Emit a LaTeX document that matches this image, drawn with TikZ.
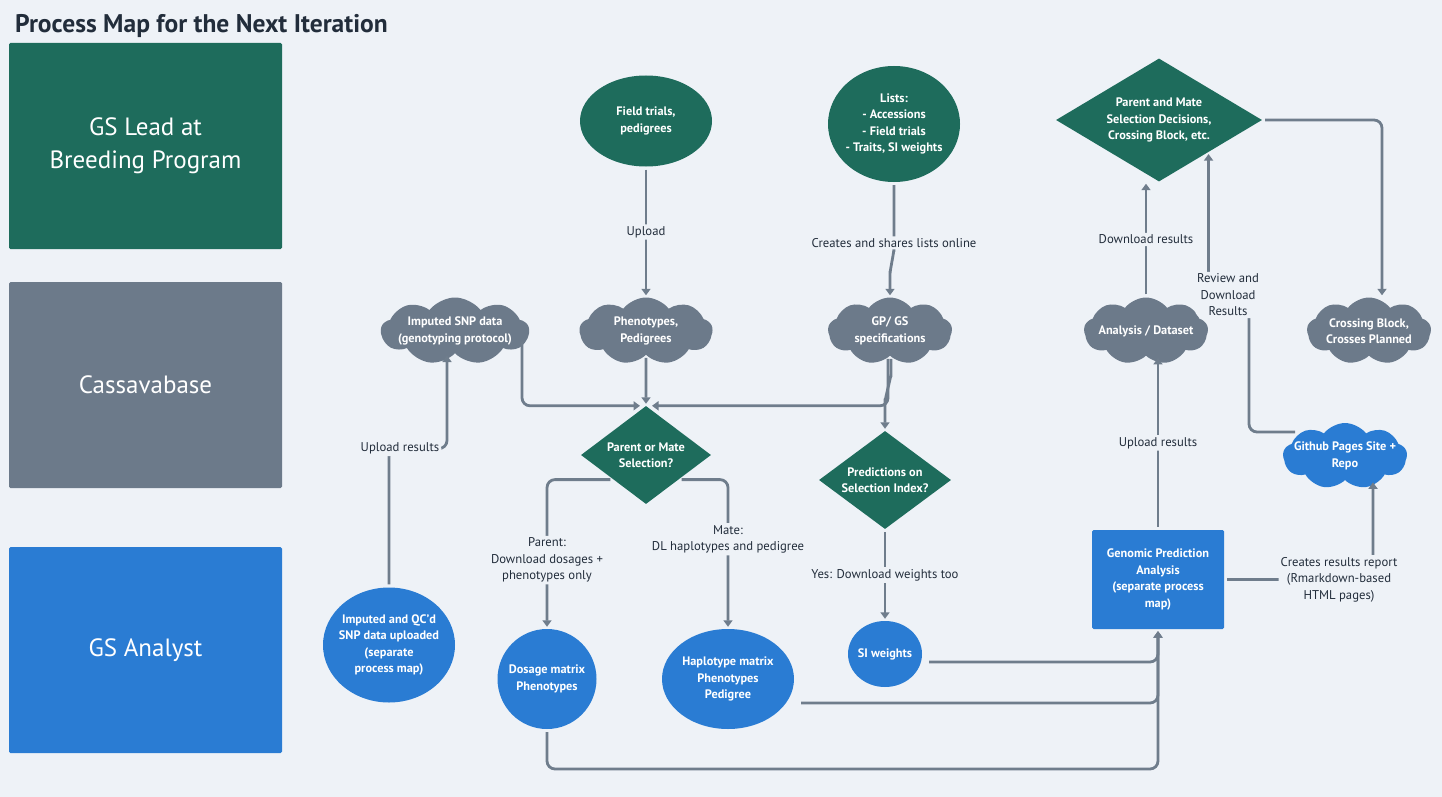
\documentclass[tikz,border=0pt]{standalone}
\usepackage{fontspec}
\setmainfont{PT Sans}
\usetikzlibrary{shapes.geometric,shapes.symbols,arrows.meta,calc}

\definecolor{bgcol}{HTML}{EEF2F7}
\definecolor{leadgreen}{HTML}{1E6C5C}
\definecolor{basegray}{HTML}{6C7A8A}
\definecolor{analystblue}{HTML}{2A7CD3}
\definecolor{linegray}{HTML}{6F7D8C}
\definecolor{titleink}{HTML}{222D3B}

\tikzset{
  lane/.style={rectangle, rounded corners=1.5pt, minimum width=273pt, minimum height=206pt,
    text=white, align=center, font=\fontsize{25}{33}\selectfont},
  nodetext/.style={text=white, align=center, inner sep=0pt, font=\bfseries\fontsize{12.3}{16.5}\selectfont},
  oval/.style={ellipse, inner sep=0pt},
  cloudy/.style={cloud, cloud puffs=9, cloud puff arc=105, cloud ignores aspect, inner sep=0pt, fill=basegray},
  decision/.style={diamond, nodetext, fill=leadgreen},
  conn/.style={draw=linegray, line width=2.8pt, rounded corners=8pt, shorten <=3pt, shorten >=2pt,
    -{Triangle[width=9pt,length=6.5pt]}},
  lbl/.style={fill=bgcol, text=titleink, align=center, inner sep=2pt, font=\fontsize{12.7}{16.5}\selectfont}
}

\begin{document}
\begin{tikzpicture}[x=1pt,y=-1pt]
  %%% CANVAS %%%
  \fill[bgcol] (0,0) rectangle (1442,797);
  \useasboundingbox (0,0) rectangle (1442,797);
  \node[anchor=west, text=titleink, inner sep=0pt, font=\bfseries\fontsize{25.5}{30}\selectfont] (title) at (15,26) {Process Map for the Next Iteration};

  %%% LANES %%%
  \node[lane, fill=leadgreen] (leadlane) at (145.5,146) {GS Lead at\\Breeding Program};
  \node[lane, fill=basegray] (baselane) at (145.5,385) {Cassavabase};
  \node[lane, fill=analystblue] (analystlane) at (145.5,650) {GS Analyst};

  %%% GS LEAD %%%
  \node[oval, fill=leadgreen, minimum width=132pt, minimum height=91pt,
    label={[nodetext]center:{Field trials,\\pedigrees}}] (field) at (646,121) {};
  \node[oval, fill=leadgreen, minimum width=132pt, minimum height=116pt,
    label={[nodetext]center:{Lists:\\- Accessions\\- Field trials\\- Traits, SI weights}}] (lists) at (894,124) {};
  \node[decision, shape aspect=1.67, minimum width=206pt, minimum height=123pt] (decide) at (1159,120)
    {Parent and Mate\\Selection Decisions,\\Crossing Block, etc.};

  %%% CASSAVABASE %%%
  \node[cloudy, minimum width=148pt, minimum height=67pt,
    label={[nodetext]center:{Imputed SNP data\\(genotyping protocol)}}] (snp) at (455,331) {};
  \node[cloudy, minimum width=133pt, minimum height=67pt,
    label={[nodetext]center:{Phenotypes,\\Pedigrees}}] (pheno) at (646,331) {};
  \node[cloudy, minimum width=124pt, minimum height=67pt,
    label={[nodetext]center:{GP/ GS\\specifications}}] (gpgs) at (890,331) {};
  \node[cloudy, minimum width=124pt, minimum height=67pt,
    label={[nodetext]center:{Analysis / Dataset}}] (analysis) at (1146,331) {};
  \node[cloudy, minimum width=124pt, minimum height=67pt,
    label={[nodetext]center:{Crossing Block,\\Crosses Planned}}] (crossing) at (1369,331) {};
  \node[cloudy, fill=analystblue, minimum width=124pt, minimum height=66pt,
    label={[nodetext]center:{Github Pages Site +\\Repo}}] (github) at (1345,456) {};
  \node[decision, shape aspect=1.33, minimum width=130pt, minimum height=98pt] (pm) at (646,455)
    {Parent or Mate\\Selection?};
  \node[decision, shape aspect=1.35, minimum width=132pt, minimum height=98pt] (pred) at (885,480)
    {Predictions on\\Selection Index?};

  %%% GS ANALYST %%%
  \node[rectangle, rounded corners=1.5pt, fill=analystblue, nodetext, minimum width=132pt, minimum height=99pt] (gp)
    at (1158,579.5) {Genomic Prediction\\Analysis\\(separate process\\map)};
  \node[oval, fill=analystblue, minimum width=74pt, minimum height=66pt,
    label={[nodetext]center:{SI weights}}] (si) at (885,654) {};
  \node[oval, fill=analystblue, minimum width=132pt, minimum height=115pt,
    label={[nodetext]center:{Imputed and QC'd\\SNP data uploaded\\(separate\\process map)}}] (qc) at (389,645) {};
  \node[oval, fill=analystblue, minimum width=99pt, minimum height=100pt,
    label={[nodetext]center:{Dosage matrix\\Phenotypes}}] (dosage) at (547,679) {};
  \node[oval, fill=analystblue, minimum width=132pt, minimum height=100pt,
    label={[nodetext]center:{Haplotype matrix\\Phenotypes\\Pedigree}}] (hap) at (728,679) {};

  \coordinate (dosagebend) at (1158,769);
  \coordinate (reviewjog) at (1249,295);

  %%% CONNECTORS %%%
  \draw[conn] (field.south) -- node[lbl]{Upload} (pheno.north);
  \draw[conn] (lists.south) -- node[lbl,pos=0.82]{Creates and shares lists online} ++(0,74)
    to[out=90,in=-90] ++(-4,10) -- (gpgs.north);
  \draw[conn] ($(snp.south)+(67,-15)$) |- ($(pm.north)+(-4,0)$);
  \draw[conn] (pheno.south) -- (pm.north);
  \draw[conn] ($(gpgs.south)+(-2,0)$) |- ($(pm.north)+(4,0)$);
  \draw[conn] ($(gpgs.south)+(1,0)$) -- ++(0,26) to[out=90,in=-90] ++(-6,12) -- (pred.north);
  \draw[conn] ($(pm.west)!0.5!(pm.south)$) -| node[lbl,pos=0.77]{Parent:\\Download dosages +\\phenotypes only} (dosage.north);
  \draw[conn] ($(pm.east)!0.5!(pm.south)$) -| node[lbl,pos=0.70]{Mate:\\DL haplotypes and pedigree} (hap.north);
  \draw[conn] (pred.south) -- node[lbl]{Yes: Download weights too} (si.north);
  \draw[conn] ($(si.east)+(4,8)$) -| (gp.south);
  \draw[conn] ($(hap.east)+(4,24)$) -| (gp.south);
  \draw[conn] (dosage.south) |- (dosagebend) -- (gp.south);
  \draw[conn] (gp.north) -- node[lbl]{Upload results} (gp.north |- analysis.south);
  \draw[conn] (analysis.north) -- node[lbl]{Download results} (analysis.north |- decide.south);
  \draw[conn] ($(github.center)+(-47,-24)$) -| (reviewjog)
    node[lbl,xshift=-21pt]{Review and\\Download\\Results} -| ($(decide.south)!0.48!(decide.east)$);
  \draw[conn] (decide.east) -| ($(crossing.north)+(13,0)$);
  \draw[conn] (gp.east) -| node[lbl,pos=0.5,xshift=-34pt]{Creates results report\\(Rmarkdown-based\\HTML pages)}
    ($(github.south)+(28,0)$);
  \draw[conn] (qc.north) |- node[lbl,pos=0.5,xshift=11pt]{Upload results} ($(snp.south)+(-8,95)$)
    -- ($(snp.south)+(-8,0)$);
\end{tikzpicture}
\end{document}
